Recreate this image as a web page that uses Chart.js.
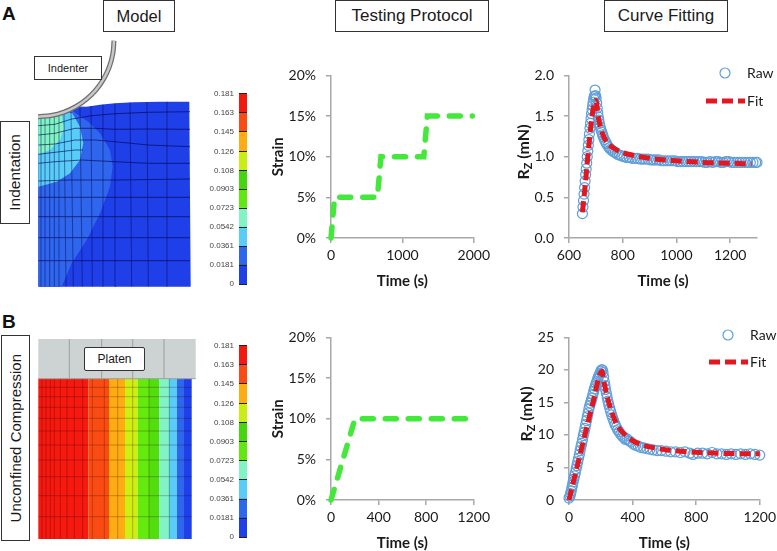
<!DOCTYPE html>
<html>
<head>
<meta charset="utf-8">
<script src="https://cdn.jsdelivr.net/npm/chart.js@4"></script>
<style>
html, body { margin: 0; padding: 0; background: #fff; }
body { position: relative; width: 777px; height: 551px; overflow: hidden; font-family: "Liberation Sans", Arial, sans-serif; color: #1a1a1a; }
canvas { position: absolute; }
.box { position: absolute; box-sizing: border-box; background: #fff; border: 1.5px solid #333; display: flex; align-items: center; justify-content: center; z-index: 5; white-space: nowrap; }
.upright { writing-mode: vertical-rl; transform: rotate(180deg); }
.panel { position: absolute; font-weight: bold; font-size: 19px; color: #111; }
.rz { position: absolute; z-index: 5; transform: translate(-50%, -50%) rotate(-90deg); font: bold 16px Lato, sans-serif; white-space: nowrap; }
.rz sub { font-size: 11px; vertical-align: -3px; line-height: 0; }
</style>
</head>
<body>
<div class="panel" style="left:2px;top:3px">A</div>
<div class="panel" style="left:2px;top:311px">B</div>
<div class="box" style="left:103px;top:0;width:72px;height:32px;font-size:16.5px">Model</div>
<div class="box" style="left:335px;top:0;width:154px;height:32px;font-size:17px">Testing Protocol</div>
<div class="box" style="left:604px;top:0;width:124px;height:32px;font-size:17px">Curve Fitting</div>
<div class="box" style="left:34px;top:56px;width:68px;height:24px;font-size:11px">Indenter</div>
<div class="box" style="left:84px;top:347px;width:61px;height:24px;font-size:12px;border-radius:2px">Platen</div>
<div class="box" style="left:0;top:121px;width:30px;height:103px;font-size:15.5px"><span class="upright">Indentation</span></div>
<div class="box" style="left:1px;top:335px;width:29px;height:206px;font-size:15px"><span class="upright">Unconfined Compression</span></div>
<div class="rz" style="left:522px;top:152px">R<sub>Z</sub> (mN)</div>
<div class="rz" style="left:525px;top:414px">R<sub>Z</sub> (mN)</div>
<script>
// strain protocols
const strainTimeA = [0, 50, 650, 700, 1300, 1350, 1980];
const strainA = [0, 5, 5, 10, 10, 15, 15];
const strainTimeB = [0, 202, 1200];
const strainB = [0, 10, 10];
const strainTicks = [0, 5, 10, 15, 20];
const strainXTicksA = [0, 1000, 2000];
const strainXTicksB = [0, 400, 800, 1200];

// reaction force, indentation
const rawTimeA = [650, 652, 654, 656, 658, 660, 662, 664, 666, 668, 670, 672, 674, 676, 678, 680, 682, 684, 686, 688, 690, 692, 694, 696, 697, 699, 701, 703, 705, 707, 709, 711, 713, 716, 719, 722, 725, 728, 732, 736, 740, 745, 750, 755, 760, 766, 772, 780, 788, 796, 805, 815, 825, 835, 845, 855, 865, 875, 885, 895, 905, 915, 925, 935, 945, 955, 965, 975, 985, 995, 1005, 1015, 1025, 1035, 1045, 1055, 1065, 1075, 1085, 1095, 1105, 1115, 1125, 1135, 1145, 1155, 1165, 1175, 1185, 1195, 1205, 1215, 1225, 1235, 1245, 1255, 1265, 1275, 1285, 1295, 1300];
const rawA = [0.30, 0.38, 0.46, 0.54, 0.62, 0.70, 0.78, 0.85, 0.92, 1.00, 1.07, 1.14, 1.21, 1.28, 1.35, 1.41, 1.47, 1.53, 1.58, 1.63, 1.67, 1.71, 1.74, 1.75, 1.82, 1.75, 1.72, 1.66, 1.60, 1.54, 1.49, 1.45, 1.41, 1.37, 1.33, 1.30, 1.27, 1.24, 1.21, 1.18, 1.16, 1.13, 1.11, 1.09, 1.08, 1.06, 1.05, 1.03, 1.02, 1.01, 1.00, 0.99, 0.99, 0.98, 0.98, 0.98, 0.97, 0.97, 0.97, 0.97, 0.96, 0.96, 0.96, 0.96, 0.95, 0.95, 0.95, 0.95, 0.95, 0.95, 0.94, 0.94, 0.94, 0.94, 0.94, 0.94, 0.94, 0.94, 0.94, 0.94, 0.93, 0.93, 0.94, 0.93, 0.94, 0.94, 0.93, 0.93, 0.94, 0.94, 0.93, 0.93, 0.93, 0.93, 0.93, 0.93, 0.93, 0.93, 0.93, 0.93, 0.93];
const fitTimeA = [650, 700, 710, 720, 740, 760, 800, 850, 900, 1000, 1100, 1200, 1280];
const fitA = [0.32, 1.69, 1.47, 1.33, 1.18, 1.12, 1.05, 1.01, 0.98, 0.95, 0.93, 0.92, 0.91];
const forceYTicksA = [0, 0.5, 1, 1.5, 2];
const forceXTicksA = [600, 800, 1000, 1200];

// reaction force, unconfined compression
const rawTimeB = [0, 6, 10, 14, 18, 22, 26, 30, 35, 40, 45, 50, 55, 60, 65, 70, 75, 80, 85, 90, 95, 100, 105, 110, 115, 120, 125, 130, 135, 140, 145, 150, 155, 160, 165, 170, 175, 180, 185, 190, 195, 200, 205, 210, 214, 218, 222, 226, 230, 235, 240, 245, 250, 256, 262, 268, 275, 282, 290, 298, 306, 315, 325, 335, 345, 355, 365, 378, 390, 405, 420, 435, 450, 470, 490, 510, 530, 555, 580, 610, 640, 670, 700, 730, 760, 780, 810, 840, 870, 900, 930, 960, 990, 1020, 1050, 1080, 1110, 1140, 1170, 1200];
const rawB = [0.3, 0.6, 1.0, 1.4, 1.9, 2.3, 2.8, 3.2, 3.7, 4.2, 4.8, 5.3, 5.9, 6.4, 7.0, 7.6, 8.2, 8.7, 9.3, 9.9, 10.4, 11.0, 11.6, 12.2, 12.8, 13.4, 14.0, 14.5, 14.9, 15.3, 15.7, 16.2, 16.7, 17.1, 17.5, 17.9, 18.2, 18.6, 18.9, 19.2, 19.5, 19.8, 20.0, 20.0, 19.6, 18.9, 18.2, 17.6, 17.0, 16.4, 15.8, 15.2, 14.7, 14.1, 13.6, 13.1, 12.6, 12.1, 11.6, 11.2, 10.8, 10.5, 10.1, 9.8, 9.6, 9.3, 9.4, 9.1, 8.9, 8.6, 8.4, 8.3, 8.1, 8.0, 7.9, 7.8, 7.7, 7.6, 7.6, 7.5, 7.4, 7.4, 7.3, 7.4, 7.2, 7.0, 7.2, 7.2, 7.1, 7.3, 7.1, 7.1, 7.0, 7.1, 7.0, 7.1, 7.0, 7.1, 7.0, 6.9];
const fitTimeB = [0, 50, 100, 150, 207, 220, 240, 260, 290, 320, 364, 410, 469, 540, 615, 700, 824, 1000, 1200];
const fitB = [0, 5, 10, 14.9, 19.8, 18.2, 15.9, 14.2, 12.2, 10.9, 9.8, 9, 8.4, 8, 7.7, 7.5, 7.3, 7.15, 7.1];
const forceYTicksB = [0, 5, 10, 15, 20, 25];
const forceXTicksB = [0, 400, 800, 1200];

// colour bar
const colorbarTicks = [0, 0.0181, 0.0361, 0.0542, 0.0723, 0.0903, 0.108, 0.126, 0.145, 0.163, 0.181];
const colorbarColors = ['#1f3fe8', '#2f66ee', '#58cdf8', '#80f4c2', '#62e80f', '#46d60c', '#cbee12', '#ffab12', '#f84c12', '#f2190f'];

// indentation model, in mesh units
const blockOutline = [[0.3, 0.3], [152.7, 0.3], [151.3, 185.3], [122, 185.3], [95.3, 184.7], [77, 183.7], [62, 182.3], [48.7, 180.3], [38, 180.5], [26, 174.9], [13.2, 171.5], [0.3, 170.3]];
const contourBlue = [[0.3, 0.3], [23.7, 0.3], [33.7, 23.7], [48.7, 47], [62, 73.7], [72, 100.3], [74.7, 120.3], [72, 137], [62, 153.7], [50.3, 165.3], [40.3, 172], [33.7, 177], [26, 174.9], [13.2, 171.5], [0.3, 170.3]];
const contourCyan = [[0.3, 100.3], [18.7, 105.3], [32, 113.7], [42, 127], [45.3, 143.7], [42, 160.3], [34.3, 173.7], [26, 174.9], [13.2, 171.5], [0.3, 170.3]];
const contourMint = [[0.3, 132.7], [12, 137], [22, 147], [26, 158.7], [23.7, 172], [13.2, 171.5], [0.3, 170.3]];
const indenterArc = [[0, 170.3], [13.2, 171.5], [26, 174.9], [38, 180.5], [48.9, 188.1], [58.2, 197.4], [65.8, 208.3], [71.4, 220.3], [74.8, 233.1], [76, 246.3]];
const meshColumns = [[3, 3, 170.5], [7, 7, 170.5], [11.7, 11.7, 171.5], [16.3, 16.3, 172.5], [21, 21, 173.5], [28, 26, 175], [35.3, 33, 177.5], [44.3, 42, 179], [54.3, 53, 181], [65.3, 65, 182.5], [78, 77, 183.7], [93.7, 92, 184.5], [110.3, 109, 185], [129.3, 129, 185.3]];
const meshRows = [
  [[0.3, 161.3], [17, 162.7], [33.7, 168], [53.7, 171.3], [77, 173.3], [110.3, 174.7], [152, 175.3]],
  [[0.3, 152], [17, 153.7], [37, 158.7], [57, 158.7], [77, 157.7], [110.3, 158], [152, 157.7]],
  [[0.3, 142], [17, 143], [37, 147], [57, 147], [77, 145.3], [110.3, 142], [152, 140.3]],
  [[0.3, 132.7], [17, 134.7], [37, 137], [45, 137]],
  [[0.3, 123.7], [17, 125.3], [43.7, 127], [77, 125.3], [110.3, 123.7], [152, 123.7]],
  [[0.3, 106], [30.3, 107], [77, 107], [152, 108]],
  [[0.3, 89.7], [152, 89.7]],
  [[0.3, 70.3], [152, 70.3]],
  [[0.3, 49.3], [152, 49.3]],
  [[0.3, 26.3], [152, 26.3]]
];

// compression model, in mesh units
const bandEdges = [0.3, 50.3, 71, 87, 99.7, 111, 121.3, 131, 139, 146, 153.7];
const bandColors = ['#f5190f', '#fa4c12', '#ffab12', '#cfef12', '#64ea0f', '#52de0d', '#80f4c2', '#58cdf8', '#2f66ee', '#1f3fe8'];
const meshXB = [4, 8, 12.3, 16.3, 22.3, 29, 36.3, 44.7, 54.3, 66.3, 79.7, 94.7, 111, 131.3];
const meshYB = [151.7, 142.3, 131.7, 120.7, 108, 94, 79, 62.3, 43.3, 22.3];
const platenEdgesX = [31.3, 63.7, 94.7, 126];

const RAW_BLUE = '#5f9fda';
const FIT_RED = '#e3171f';
const STRAIN_GREEN = '#43e83b';
const AXIS_GREY = '#a8a8a8';
const TICK_FONT = { family: 'Lato', size: 14 };
const TITLE_FONT = { family: 'Lato', size: 15, weight: 'bold' };

const xy = (xs, ys) => xs.map((x, i) => ({ x: x, y: ys[i] }));
const pts = list => list.map(p => ({ x: p[0], y: p[1] }));
const fixedTicks = list => scale => { scale.ticks = list.map(v => ({ value: v })); };

Chart.defaults.animation = false;
Chart.defaults.responsive = false;
Chart.defaults.events = [];
Chart.defaults.plugins.legend.display = false;
Chart.defaults.plugins.tooltip.enabled = false;
Chart.defaults.color = '#1a1a1a';

function addCanvas(left, top, width, height) {
  const c = document.createElement('canvas');
  c.width = width;
  c.height = height;
  c.style.left = left + 'px';
  c.style.top = top + 'px';
  document.body.appendChild(c);
  return c;
}

// legend sits inside the plot, so it is drawn by hand from the dataset styles
const insideLegend = {
  id: 'insideLegend',
  afterDraw(chart, args, opts) {
    if (!opts.raw) return;
    const ctx = chart.ctx;
    const fit = chart.data.datasets[0];
    const raw = chart.data.datasets[1];
    ctx.save();
    ctx.strokeStyle = raw.pointBorderColor;
    ctx.lineWidth = raw.pointBorderWidth;
    ctx.beginPath();
    ctx.arc(opts.raw[0], opts.raw[1], raw.pointRadius, 0, Math.PI * 2);
    ctx.stroke();
    ctx.strokeStyle = fit.borderColor;
    ctx.lineWidth = fit.borderWidth;
    ctx.setLineDash(fit.borderDash);
    ctx.beginPath();
    ctx.moveTo(opts.fit[0], opts.fit[1]);
    ctx.lineTo(opts.fit[0] + 39, opts.fit[1]);
    ctx.stroke();
    ctx.setLineDash([]);
    ctx.fillStyle = '#1a1a1a';
    ctx.font = '14px Lato';
    ctx.textBaseline = 'middle';
    ctx.fillText(raw.label, opts.raw[0] + 22, opts.raw[1]);
    ctx.fillText(fit.label, opts.fit[0] + 41, opts.fit[1]);
    ctx.restore();
  }
};

function plotChart(box, datasets, o) {
  const padL = 66, padR = 20, padT = 10, padB = 56;
  const canvas = addCanvas(box.left - padL, box.top - padT, box.right - box.left + padL + padR, box.bottom - box.top + padT + padB);
  const tickGrid = { drawOnChartArea: false, drawTicks: true, tickLength: 5, color: AXIS_GREY, lineWidth: 1.5 };
  const border = { color: AXIS_GREY, width: 1.5 };
  return new Chart(canvas, {
    type: 'scatter',
    data: { datasets: datasets },
    plugins: [insideLegend],
    options: {
      layout: { padding: { left: 0, right: padR, top: padT, bottom: 0 } },
      plugins: { insideLegend: o.legend || {} },
      scales: {
        x: {
          type: 'linear', min: o.xMin, max: o.xMax,
          afterBuildTicks: fixedTicks(o.xTicks),
          afterFit: s => { s.height = padB; },
          grid: tickGrid, border: border,
          ticks: { font: TICK_FONT, padding: 4, maxRotation: 0, autoSkip: false, callback: v => String(v) },
          title: { display: true, text: 'Time (s)', font: TITLE_FONT, color: '#1a1a1a' }
        },
        y: {
          type: 'linear', min: o.yMin, max: o.yMax,
          afterBuildTicks: fixedTicks(o.yTicks),
          afterFit: s => { s.width = padL; },
          grid: tickGrid, border: border,
          ticks: { font: TICK_FONT, padding: 10, autoSkip: false, callback: o.yLabel },
          title: { display: !!o.yTitle, text: o.yTitle, font: TITLE_FONT, color: '#1a1a1a' }
        }
      }
    }
  });
}

function strainSet(times, values) {
  return [{
    label: 'Strain', data: xy(times, values), showLine: true, pointRadius: 0, clip: false,
    borderColor: STRAIN_GREEN, borderWidth: 5.5, borderCapStyle: 'round', borderDash: [11, 12]
  }];
}

function fitSets(fitT, fitV, rawT, rawV) {
  return [{
    label: 'Fit', data: xy(fitT, fitV), showLine: true, pointRadius: 0, clip: false,
    borderColor: FIT_RED, borderWidth: 5, borderDash: [11, 5], cubicInterpolationMode: 'monotone'
  }, {
    label: 'Raw', data: xy(rawT, rawV), showLine: false, clip: false,
    pointRadius: 5, pointBorderWidth: 1.2, pointBorderColor: RAW_BLUE, pointBackgroundColor: 'rgba(0,0,0,0)'
  }];
}

plotChart({ left: 331, top: 67, right: 474, bottom: 238 }, strainSet(strainTimeA, strainA), {
  xMin: 0, xMax: 2000, xTicks: strainXTicksA, yMin: 0, yMax: 20, yTicks: strainTicks, yLabel: v => v + '%', yTitle: 'Strain'
});
plotChart({ left: 331, top: 329, right: 474, bottom: 500 }, strainSet(strainTimeB, strainB), {
  xMin: 0, xMax: 1200, xTicks: strainXTicksB, yMin: 0, yMax: 20, yTicks: strainTicks, yLabel: v => v + '%', yTitle: 'Strain'
});
plotChart({ left: 569, top: 67, right: 757, bottom: 238 }, fitSets(fitTimeA, fitA, rawTimeA, rawA), {
  xMin: 600, xMax: 1300, xTicks: forceXTicksA, yMin: 0, yMax: 2, yTicks: forceYTicksA, yLabel: v => v.toFixed(1),
  legend: { raw: [222, 16], fit: [203, 44] }
});
plotChart({ left: 569, top: 329, right: 760, bottom: 500 }, fitSets(fitTimeB, fitB, rawTimeB, rawB), {
  xMin: 0, xMax: 1200, xTicks: forceXTicksB, yMin: 0, yMax: 25, yTicks: forceYTicksB, yLabel: v => v,
  legend: { raw: [225, 16], fit: [206, 43] }
});

function colorbar(top, bottom) {
  const padL = 60;
  const left = 239, right = 247;
  const canvas = addCanvas(left - padL, top - 8, right - left + padL + 2, bottom - top + 16);
  new Chart(canvas, {
    type: 'bar',
    data: {
      labels: ['strain'],
      datasets: colorbarColors.map((c, i) => ({
        data: [[colorbarTicks[i], colorbarTicks[i + 1]]],
        backgroundColor: c, grouped: false, categoryPercentage: 1, barPercentage: 1
      }))
    },
    options: {
      layout: { padding: { left: 0, right: 2, top: 8, bottom: 8 } },
      scales: {
        x: { display: false },
        y: {
          type: 'linear', min: 0, max: 0.181,
          afterBuildTicks: fixedTicks(colorbarTicks),
          afterFit: s => { s.width = padL; },
          border: { display: false },
          grid: { z: 1, color: '#222', lineWidth: 1, drawTicks: false },
          ticks: { padding: 5, autoSkip: false, color: '#444', font: { family: 'Liberation Sans', size: 8 }, callback: v => String(v) }
        }
      }
    }
  });
}
colorbar(92, 286);
colorbar(344, 539);

function modelChart(left, top, width, height, datasets) {
  // Chart.js paints the first dataset last, so the list is given bottom layer first and reversed
  new Chart(addCanvas(left, top, width, height), {
    type: 'scatter',
    data: { datasets: datasets.slice().reverse() },
    options: {
      layout: { padding: 0 },
      scales: {
        x: { type: 'linear', display: false, min: 0, max: width },
        y: { type: 'linear', display: false, min: 0, max: height }
      }
    }
  });
}

const region = (list, color) => ({ data: pts(list), showLine: true, fill: 'shape', backgroundColor: color, borderWidth: 0, pointRadius: 0 });
const meshLine = (list, color) => ({ data: pts(list), showLine: true, borderColor: color, borderWidth: 1, pointRadius: 0 });
const stroke = (list, color, w) => ({ data: pts(list), showLine: true, borderColor: color, borderWidth: w, pointRadius: 0, tension: 0.4, clip: false });

const MESH_COL_A = 'rgba(0,0,70,0.45)';
const MESH_ROW_A = 'rgba(0,0,70,0.6)';
const MESH_B = 'rgba(40,0,0,0.26)';

modelChart(38, 40, 155, 247, [
  region(blockOutline, colorbarColors[0]),
  region(contourBlue, colorbarColors[1]),
  region(contourCyan, colorbarColors[2]),
  region(contourMint, colorbarColors[3])
].concat(
  meshColumns.map(c => meshLine([[c[0], 0.3], [c[1], c[2]]], MESH_COL_A)),
  meshRows.map(r => meshLine(r, MESH_ROW_A)),
  [stroke(indenterArc, '#6f6f6f', 5), stroke(indenterArc, '#c8c8c8', 2.5)]
));

const FIELD_TOP = 160.3;
const FIELD_BOTTOM = 0;
const platenRight = 157.7;
const platenTop = 200;
modelChart(38, 339, 158, 200, [
  region([[0.3, FIELD_TOP], [platenRight, FIELD_TOP], [platenRight, platenTop], [0.3, platenTop]], '#cdd2d2')
].concat(
  bandColors.map((c, i) => region([[bandEdges[i], FIELD_BOTTOM], [bandEdges[i + 1], FIELD_BOTTOM], [bandEdges[i + 1], FIELD_TOP], [bandEdges[i], FIELD_TOP]], c)),
  meshXB.map(x => meshLine([[x, FIELD_BOTTOM], [x, FIELD_TOP]], MESH_B)),
  meshYB.map(y => meshLine([[0.3, y], [153.7, y]], MESH_B)),
  platenEdgesX.map(x => meshLine([[x, FIELD_TOP], [x, platenTop]], '#9a9f9f')),
  [meshLine([[0.3, FIELD_TOP], [platenRight, FIELD_TOP]], '#9a9f9f')]
));
</script>
</body>
</html>
